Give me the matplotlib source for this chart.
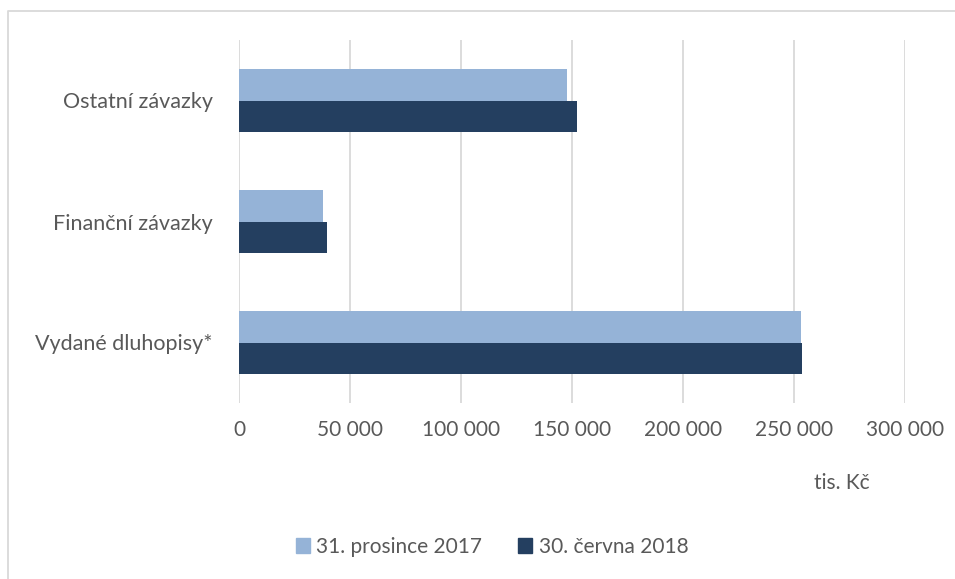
import matplotlib
matplotlib.use("Agg")
import matplotlib.pyplot as plt
from matplotlib.lines import Line2D
from matplotlib.patches import Patch
from matplotlib.ticker import FuncFormatter
import numpy as np

categories = ["Vydané dluhopisy*", "Finanční závazky", "Ostatní závazky"]
series_names = ["31. prosince 2017", "30. června 2018"]
values_2017 = [253000, 37800, 147800]
values_2018 = [253500, 39700, 152300]
x_ticks = [0, 50000, 100000, 150000, 200000, 250000, 300000]
unit_label = "tis. Kč"

light = "#95B3D7"
dark = "#243F60"
text_col = "#595959"
grid_col = "#D9D9D9"

plt.rcParams['font.family'] = ['Lato', 'DejaVu Sans']

W, H = 955, 579
fig = plt.figure(figsize=(W / 100, H / 100), dpi=100)
ax = fig.add_axes([239 / W, 1 - 403 / H, (905 - 239) / W, (403 - 40) / H])

y = np.arange(len(categories))
h = 0.26
ax.barh(y + h / 2, values_2017, height=h, color=light, label=series_names[0], zorder=3)
ax.barh(y - h / 2, values_2018, height=h, color=dark, label=series_names[1], zorder=3)

ax.set_xlim(0, 300000)
ax.set_ylim(-0.5, 2.5)
ax.set_xticks(x_ticks)
ax.xaxis.set_major_formatter(FuncFormatter(lambda v, p: f"{int(v):,}".replace(",", " ")))
ax.set_yticks(y)
ax.set_yticklabels(categories)
ax.tick_params(axis='both', length=0, colors=text_col)
ax.tick_params(axis='x', pad=12, labelsize=15)
ax.tick_params(axis='y', pad=19, labelsize=15.5)
ax.grid(axis='x', color=grid_col, linewidth=1.3, zorder=0)
for s in ax.spines.values():
    s.set_visible(False)

fig.text(870 / W, 1 - 483 / H, unit_label, ha='right', va='center', color=text_col, fontsize=15)

handles = [Patch(color=light), Patch(color=dark)]
fig.legend(handles, series_names, loc='center', bbox_to_anchor=(492 / W, 1 - 547 / H),
           ncol=2, frameon=False, fontsize=15, labelcolor=text_col,
           handlelength=0.7, handleheight=0.7, handletextpad=0.3, columnspacing=1.7,
           borderpad=0.0)

fig.add_artist(Line2D([8 / W, 8 / W, 1.0], [0.0, 1 - 11 / H, 1 - 11 / H],
                      transform=fig.transFigure, color="#D9D9D9", linewidth=1.3))

fig.savefig("out.png", dpi=100)
